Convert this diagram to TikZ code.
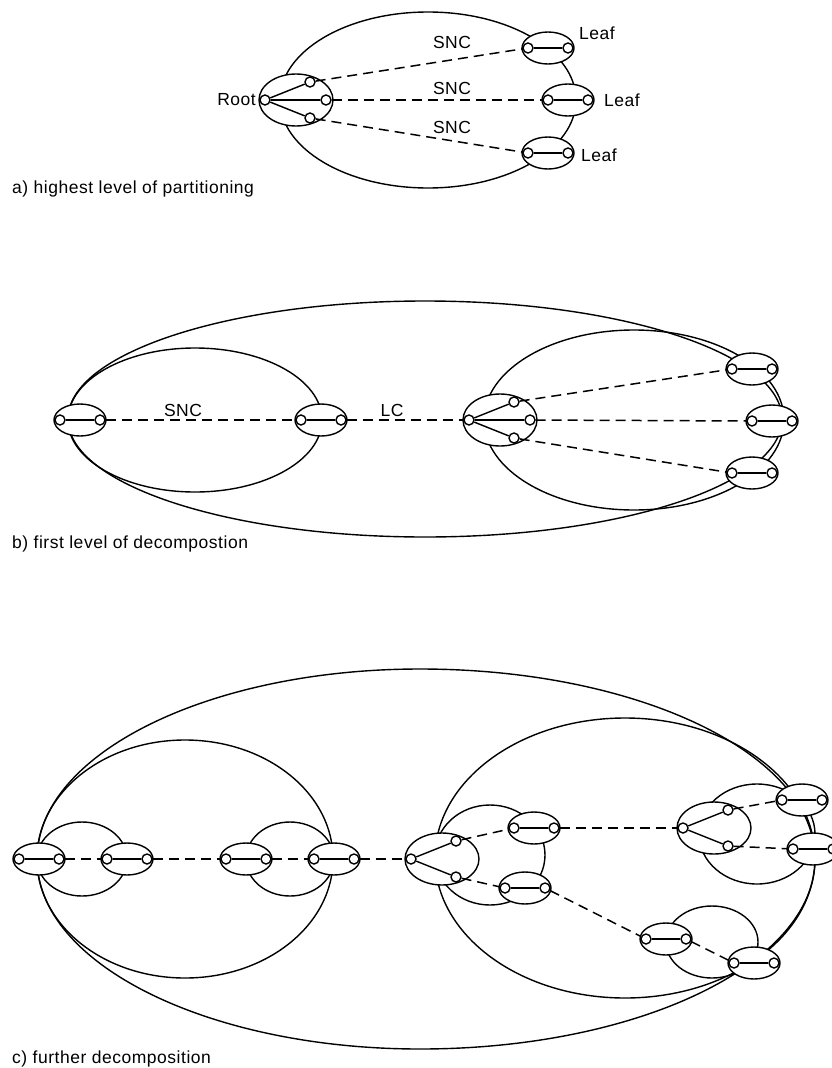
\documentclass[tikz,border=0pt]{standalone}
\usepackage{fontspec}
\setmainfont[LetterSpace=3]{Liberation Sans}
\usetikzlibrary{shapes.geometric}
\tikzset{
  outline/.style={line width=1.4pt},
  linkbox/.style={ellipse, draw, line width=1.4pt, fill=white, minimum width=52pt, minimum height=32pt, inner sep=0pt},
  rootbox/.style={ellipse, draw, line width=1.4pt, fill=white, minimum width=74pt, minimum height=52pt, inner sep=0pt},
  port/.style={circle, draw, line width=1.4pt, fill=white, minimum size=10pt, inner sep=0pt},
  inlink/.style={line width=1.4pt},
  conn/.style={line width=1.5pt, dash pattern=on 10pt off 6pt},
  lbl/.style={font=\fontsize{17.5}{20}\selectfont, inner sep=0pt},
}
\newcommand\LinkE[3]{%
  \begin{scope}[shift={(#2,#3)}]
    \node[linkbox] (#1) at (0,0) {};
    \node[port] (#1-l) at (-20,0) {};
    \node[port] (#1-r) at (20,0) {};
    \draw[inlink] (#1-l) -- (#1-r);
  \end{scope}}
\newcommand\RootE[4]{%
  \begin{scope}[shift={(#2,#3)}]
    \node[rootbox] (#1) at (0,0) {};
    \node[port] (#1-l) at (-31,0) {};
    \node[port] (#1-t) at (14,-18) {};
    \node[port] (#1-b) at (14,18) {};
    \draw[inlink] (#1-l) -- (#1-t);
    \draw[inlink] (#1-l) -- (#1-b);
    \ifnum#4=1
      \node[port] (#1-r) at (30,0) {};
      \draw[inlink] (#1-l) -- (#1-r);
    \fi
  \end{scope}}
\begin{document}
\begin{tikzpicture}[x=1pt,y=-1pt]
\fill[white] (0,0) rectangle (831,1068);
\useasboundingbox (0,0) rectangle (831,1068);

% ---------------- panel a
\draw[outline] (428,100) ellipse [x radius=148pt, y radius=88pt];
\RootE{ra}{296}{100}{1}
\LinkE{la1}{548}{48}
\LinkE{la2}{568}{100}
\LinkE{la3}{548}{153}
\draw[conn] (ra-t) -- (la1-l);
\draw[conn] (ra-r) -- (la2-l);
\draw[conn] (ra-b) -- (la3-l);
\node[lbl] (sa1) at (452,42) {SNC};
\node[lbl] (sa2) at (452,88) {SNC};
\node[lbl] (sa3) at (452,127) {SNC};
\node[lbl] (lf1) at (597,33) {Leaf};
\node[lbl] (lf2) at (622,100) {Leaf};
\node[lbl] (lf3) at (599,155) {Leaf};
\node[lbl, anchor=east] (rt) at (256,100) {Root};
\node[lbl, anchor=west] (capa) at (12,189) {a) highest level of partitioning};

% ---------------- panel b
\draw[outline] (425,419) ellipse [x radius=357pt, y radius=118pt];
\draw[outline] (195,420) ellipse [x radius=127pt, y radius=72pt];
\draw[outline] (634,420) ellipse [x radius=150pt, y radius=90pt];
\LinkE{lb1}{80}{420}
\LinkE{lb2}{321}{420}
\RootE{rb}{500}{420}{1}
\LinkE{lb3}{752}{369}
\LinkE{lb4}{772}{421}
\LinkE{lb5}{752}{473}
\draw[conn] (lb1-r) -- (lb2-l);
\draw[conn] (lb2-r) -- (rb-l);
\draw[conn] (rb-t) -- (lb3-l);
\draw[conn] (rb-r) -- (lb4-l);
\draw[conn] (rb-b) -- (lb5-l);
\node[lbl] (sb) at (183,410) {SNC};
\node[lbl] (lcb) at (392,410) {LC};
\node[lbl, anchor=west] (capb) at (12,544) {b) first level of decompostion};

% ---------------- panel c
\draw[outline] (420,669) arc[start angle=90, end angle=270, x radius=383pt, y radius=190pt]
                         arc[start angle=270, end angle=450, x radius=395pt, y radius=190pt];
\draw[outline] (185,859) ellipse [x radius=148pt, y radius=119pt];
\draw[outline] (625,858) ellipse [x radius=190pt, y radius=140pt];
\draw[outline] (82,859) ellipse [x radius=45pt, y radius=37pt];
\draw[outline] (290,859) ellipse [x radius=44pt, y radius=37pt];
\draw[outline] (490,855) ellipse [x radius=55pt, y radius=50pt];
\draw[outline] (757,834) ellipse [x radius=58pt, y radius=50pt];
\draw[outline] (712,942) ellipse [x radius=46pt, y radius=36pt];
\LinkE{lc1}{39}{859}
\LinkE{lc2}{127}{859}
\LinkE{lc3}{246}{859}
\LinkE{lc4}{334}{859}
\RootE{rc1}{442}{859}{0}
\LinkE{s1}{534}{828}
\LinkE{s2}{525}{888}
\RootE{rc2}{714}{828}{0}
\LinkE{t1}{802}{800}
\LinkE{t2}{813}{849}
\LinkE{u1}{666}{939}
\LinkE{u2}{754}{963}
\draw[conn] (lc1-r) -- (lc2-l);
\draw[conn] (lc2-r) -- (lc3-l);
\draw[conn] (lc3-r) -- (lc4-l);
\draw[conn] (lc4-r) -- (rc1-l);
\draw[conn] (rc1-t) -- (s1-l);
\draw[conn] (rc1-b) -- (s2-l);
\draw[conn] (s1-r) -- (rc2-l);
\draw[conn] (rc2-t) -- (t1-l);
\draw[conn] (rc2-b) -- (t2-l);
\draw[conn] (s2-r) -- (u1-l);
\draw[conn] (u1-r) -- (u2-l);
\node[lbl, anchor=west] (capc) at (12,1059) {c) further decomposition};
\end{tikzpicture}
\end{document}
